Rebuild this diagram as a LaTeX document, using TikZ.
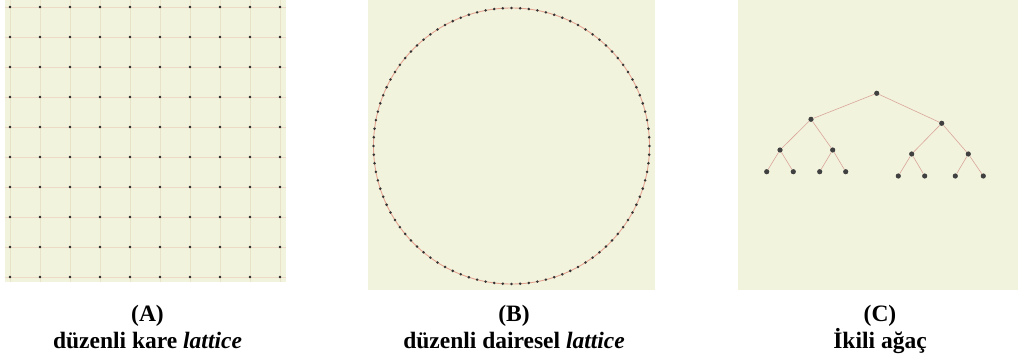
\documentclass[tikz,border=0pt]{standalone}
\usepackage{fontspec}
\setmainfont{Liberation Serif}
\usetikzlibrary{calc}
\begin{document}
\begin{tikzpicture}[x=1pt,y=-1pt,
  panel/.style={fill=bgc,draw=none},
  gdot/.style={circle,fill=black!85,inner sep=0pt,minimum size=2.8pt},
  cdot/.style={circle,fill=black!80,inner sep=0pt,minimum size=2.8pt},
  tdot/.style={circle,fill=black!75,inner sep=0pt,minimum size=5.2pt},
  vline/.style={draw=vlc,line width=0.6pt},
  hline/.style={draw=hlc,line width=0.6pt},
  tedge/.style={draw=edc,line width=0.6pt},
  lab/.style={font=\bfseries\fontsize{23.5}{26}\selectfont,inner sep=0pt,anchor=base}]
\definecolor{bgc}{HTML}{F2F3DD}
\definecolor{vlc}{HTML}{E8E3C8}
\definecolor{hlc}{HTML}{EED8C6}
\definecolor{edc}{HTML}{D9A59A}
\definecolor{crc}{HTML}{E3A592}
\useasboundingbox (0,0) rectangle (1018,361);
% panels
\fill[panel] (5,0) rectangle (286,282);
\fill[panel] (368,0) rectangle (655,290);
\fill[panel] (738,0) rectangle (1018,290);
% (A) square lattice
\foreach \i in {0,...,9}{
  \draw[vline] (10+30*\i,0) -- (10+30*\i,282);
  \draw[hline] (5,7+30*\i) -- (286,7+30*\i);
}
\foreach \i in {0,...,9}{
  \foreach \j in {0,...,9}{
    \node[gdot] (g\i-\j) at (10+30*\i,7+30*\j) {};
  }
}
% (B) circular lattice
\coordinate (cc) at (511.5,146);
\draw[draw=crc,line width=0.9pt] (cc) circle (138);
\foreach \k in {0,...,99}{
  \node[cdot] (c\k) at ($(cc)+(90+3.6*\k:138)$) {};
}
% (C) binary tree
\node[tdot] (r) at (876.7,93.3) {};
\node[tdot] (l) at (811,119.3) {};
\node[tdot] (rr) at (941.7,123.3) {};
\node[tdot] (ll) at (780,150) {};
\node[tdot] (lr) at (832.7,150) {};
\node[tdot] (rl) at (911.7,154) {};
\node[tdot] (rrr) at (968.3,154) {};
\node[tdot] (a1) at (766.7,171.7) {};
\node[tdot] (a2) at (793.3,171.7) {};
\node[tdot] (a3) at (819.7,171.7) {};
\node[tdot] (a4) at (845.7,171.7) {};
\node[tdot] (b1) at (898.3,176) {};
\node[tdot] (b2) at (924.7,176) {};
\node[tdot] (b3) at (955.3,176) {};
\node[tdot] (b4) at (983.3,176) {};
\draw[tedge] (r) -- (l) (r) -- (rr) (l) -- (ll) (l) -- (lr) (rr) -- (rl) (rr) -- (rrr)
  (ll) -- (a1) (ll) -- (a2) (lr) -- (a3) (lr) -- (a4)
  (rl) -- (b1) (rl) -- (b2) (rrr) -- (b3) (rrr) -- (b4);
% labels
\node[lab] (la1) at (147.5,321) {(A)};
\node[lab] (la2) at (147.5,348) {düzenli kare \textit{lattice}};
\node[lab] (lb1) at (514,321) {(B)};
\node[lab] (lb2) at (514,348) {düzenli dairesel \textit{lattice}};
\node[lab] (lc1) at (880,321) {(C)};
\node[lab] (lc2) at (880,348) {İkili ağaç};
\end{tikzpicture}
\end{document}
